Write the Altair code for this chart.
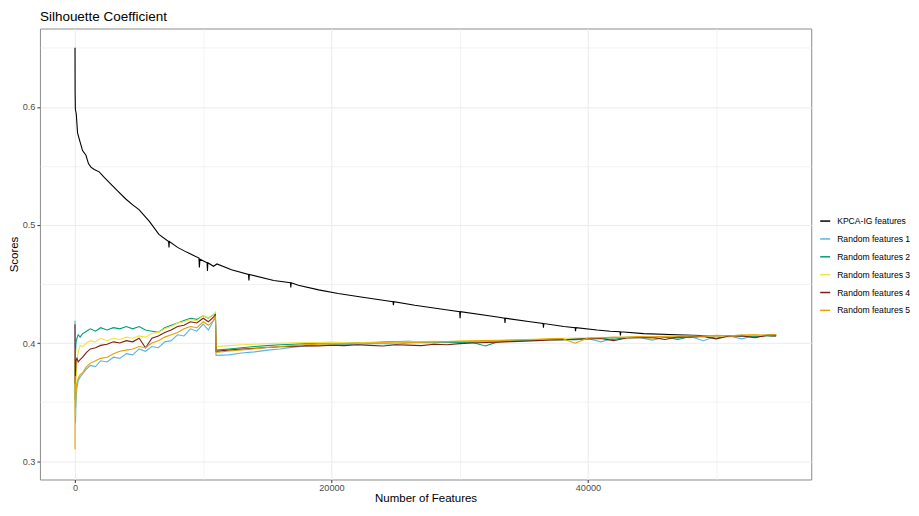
import altair as alt
import pandas as pd

SERIES = ["KPCA-IG features", "Random features 1", "Random features 2",
          "Random features 3", "Random features 4", "Random features 5"]
COLORS = ["#000000", "#56B4E9", "#009E73", "#F0E442", "#7A2012", "#E69F00"]

X_GRID = [0, 10000, 20000, 30000, 40000, 50000]
Y_GRID = [0.30, 0.35, 0.40, 0.45, 0.50, 0.55, 0.60, 0.65]

KPCA_X = [1, 10, 30, 100, 200, 350, 590, 854, 1050, 1242,
          1500, 1887, 2300, 2663, 3300, 3960, 4500, 4992, 5800, 6545,
          7300, 7330, 7360, 8000, 8700, 9666, 9700, 9740, 10300, 10330,
          10360, 10800, 11071, 12200, 13532, 13560, 13600, 15500, 16800, 16830,
          16860, 17414, 19000, 20520, 22300, 24146, 24800, 24830, 24860, 26500,
          29060, 30000, 30030, 30060, 32942, 33500, 33530, 33560, 35500, 36500,
          36530, 36560, 38122, 39000, 39030, 39060, 40706, 41740, 42500, 42530,
          42560, 44333, 46918, 50024, 54675]
KPCA_Y = [0.650, 0.612, 0.598, 0.594, 0.578, 0.572, 0.563, 0.559, 0.552, 0.549,
          0.547, 0.545, 0.540, 0.536, 0.529, 0.522, 0.517, 0.513, 0.503, 0.492,
          0.486, 0.481, 0.486, 0.481, 0.477, 0.472, 0.464, 0.471, 0.468, 0.461,
          0.468, 0.465, 0.467, 0.462, 0.458, 0.453, 0.458, 0.453, 0.451, 0.447,
          0.451, 0.449, 0.445, 0.442, 0.439, 0.436, 0.435, 0.432, 0.435, 0.432,
          0.428, 0.4265, 0.421, 0.4265, 0.422, 0.421, 0.417, 0.421, 0.418, 0.4165,
          0.413, 0.4165, 0.414, 0.413, 0.410, 0.413, 0.411, 0.410, 0.4095, 0.4065,
          0.4095, 0.408, 0.407, 0.406, 0.406]

R_X_PRE = [1, 15, 40, 80, 150, 250, 400, 600, 900, 1200,
           1600, 2000, 2500, 3000, 3500, 4000, 4500, 5000, 5500, 6000,
           6500, 7000, 7500, 8000, 8500, 9000, 9500, 10000, 10400, 10800,
           10950]
R_X_POST = [11000, 12000, 13000, 14000, 15000, 16000, 17000, 18000, 19000, 20000,
            21000, 22000, 23000, 24000, 25000, 26000, 27000, 28000, 29000, 30000,
            31000, 32000, 33000, 34000, 35000, 36000, 37000, 38000, 39000, 40000,
            41000, 42000, 43000, 44000, 45000, 46000, 47000, 48000, 49000, 50000,
            51000, 52000, 53000, 54000, 54675]

R1_PRE = [.419, .360, .332, .352, .362, .368, .371, .374, .378, .381,
          .380, .385, .384, .388, .387, .391, .390, .395, .393, .397,
          .396, .401, .402, .407, .406, .412, .410, .416, .411, .419,
          .422]
R1_POST = [.3895, .3900, .3915, .3925, .3940, .3950, .3965, .3975, .3980, .3985,
           .3990, .3985, .3995, .3995, .3990, .4000, .4005, .4000, .4010, .4005,
           .4012, .4010, .4015, .4015, .4020, .4025, .4028, .4030, .4025, .4038,
           .4010, .4040, .4045, .4048, .4025, .4050, .4040, .4055, .4020, .4058,
           .4060, .4035, .4065, .4055, .4068]

R2_PRE = [.352, .375, .392, .401, .404, .407, .405, .408, .410, .412,
          .410, .413, .411, .413, .412, .414, .412, .414, .411, .410,
          .409, .413, .415, .417, .419, .421, .420, .423, .421, .424,
          .425]
R2_POST = [.3940, .3950, .3960, .3970, .3978, .3985, .3990, .3995, .3998, .4000,
           .4002, .4005, .4003, .4008, .4012, .4015, .4010, .4012, .4008, .4010,
           .4005, .3975, .4012, .4018, .4022, .4026, .4030, .4028, .4035, .4040,
           .4043, .4030, .4048, .4050, .4045, .4052, .4030, .4055, .4058, .4040,
           .4062, .4065, .4050, .4068, .4070]

R3_PRE = [.395, .338, .352, .370, .385, .392, .398, .397, .400, .402,
          .401, .404, .402, .404, .403, .405, .404, .406, .405, .408,
          .409, .412, .414, .417, .418, .420, .419, .423, .421, .424,
          .426]
R3_POST = [.3970, .3978, .3985, .3990, .3995, .3998, .4002, .4005, .4003, .4008,
           .4005, .4002, .4006, .4003, .4008, .4010, .4012, .4015, .4013, .4018,
           .4020, .4022, .4025, .4028, .4030, .4033, .4036, .4040, .4042, .4045,
           .4048, .4045, .4050, .4052, .4040, .4055, .4058, .4045, .4060, .4062,
           .4050, .4066, .4068, .4060, .4072]

R4_PRE = [.416, .365, .372, .385, .387, .384, .386, .388, .392, .395,
          .396, .398, .399, .401, .400, .402, .401, .404, .396, .404,
          .406, .409, .411, .414, .415, .418, .417, .421, .418, .422,
          .424]
R4_POST = [.3930, .3940, .3948, .3955, .3962, .3968, .3972, .3978, .3975, .3982,
           .3978, .3985, .3980, .3975, .3985, .3982, .3978, .3990, .3985, .3995,
           .4000, .4005, .4008, .4012, .4015, .4020, .4025, .4028, .4032, .4035,
           .4038, .4020, .4042, .4045, .4048, .4030, .4052, .4050, .4055, .4035,
           .4060, .4062, .4045, .4066, .4068]

R5_PRE = [.310, .372, .345, .360, .366, .370, .373, .375, .380, .383,
          .385, .387, .388, .391, .393, .394, .395, .397, .396, .400,
          .402, .405, .407, .409, .412, .414, .413, .418, .415, .419,
          .423]
R5_POST = [.3920, .3932, .3942, .3952, .3962, .3970, .3978, .3985, .3990, .3992,
           .3995, .3998, .4000, .4002, .4000, .4004, .4008, .4010, .4012, .4015,
           .4017, .4020, .4018, .4025, .4028, .4030, .4035, .4038, .3998, .4042,
           .4045, .4050, .4048, .4055, .4052, .4058, .4060, .4062, .4058, .4065,
           .4062, .4068, .4070, .4068, .4072]

assert len(KPCA_X) == len(KPCA_Y)
rows = []
for xv, yv in zip(KPCA_X, KPCA_Y):
    rows.append({"Features": xv, "Score": yv, "Series": SERIES[0]})
R_X = R_X_PRE + R_X_POST
for name, pre, post in [(SERIES[1], R1_PRE, R1_POST), (SERIES[2], R2_PRE, R2_POST),
                        (SERIES[3], R3_PRE, R3_POST), (SERIES[4], R4_PRE, R4_POST),
                        (SERIES[5], R5_PRE, R5_POST)]:
    ys = pre + post
    assert len(ys) == len(R_X), name
    for xv, yv in zip(R_X, ys):
        rows.append({"Features": xv, "Score": yv, "Series": name})
df = pd.DataFrame(rows)

FONT = "Liberation Sans"

x_major = "datum.value % 20000 == 0"
y_major = "round(datum.value * 100) % 10 == 0"

x_axis = alt.Axis(
    values=X_GRID, format="d",
    labelExpr="datum.value % 20000 == 0 ? datum.label : ''",
    tickOpacity={"condition": {"test": x_major, "value": 1}, "value": 0},
    gridWidth={"condition": {"test": x_major, "value": 1}, "value": 0.6},
    gridColor="#ebebeb", domain=False, tickColor="#333333", tickSize=3,
    labelColor="#4d4d4d", labelFontSize=9.2, labelFont=FONT, labelPadding=1,
    titleFont=FONT, titleFontSize=11.5, titleFontWeight="normal",
    titleColor="#000000", titlePadding=0,
)
y_axis = alt.Axis(
    values=Y_GRID, format=".1f",
    labelExpr="round(datum.value * 100) % 10 == 0 ? datum.label : ''",
    tickOpacity={"condition": {"test": y_major, "value": 1}, "value": 0},
    gridWidth={"condition": {"test": y_major, "value": 1}, "value": 0.6},
    gridColor="#ebebeb", domain=False, tickColor="#333333", tickSize=3,
    labelColor="#4d4d4d", labelFontSize=9.2, labelFont=FONT, labelPadding=2,
    titleFont=FONT, titleFontSize=11.5, titleFontWeight="normal",
    titleColor="#000000", titlePadding=3,
)

chart = alt.Chart(df).mark_line(strokeWidth=1.1).encode(
    x=alt.X("Features:Q", title="Number of Features",
            scale=alt.Scale(domain=[-2734, 57409], nice=False, zero=False),
            axis=x_axis),
    y=alt.Y("Score:Q", title="Scores",
            scale=alt.Scale(domain=[0.2844, 0.6664], nice=False, zero=False),
            axis=y_axis),
    color=alt.Color("Series:N", title=None,
                    scale=alt.Scale(domain=SERIES, range=COLORS),
                    legend=alt.Legend(orient="none", legendX=781, legendY=187,
                                      symbolType="stroke", symbolSize=100,
                                      symbolStrokeWidth=1.5, labelFontSize=8.6,
                                      labelFont=FONT, labelColor="#000000",
                                      labelOffset=6, rowPadding=6.9, padding=0)),
).properties(
    width=773, height=452,
    padding={"left": 0, "top": 1, "right": 0, "bottom": 0},
    title=alt.TitleParams("Silhouette Coefficient", anchor="start", frame="group",
                          fontSize=13.5, font=FONT, fontWeight="normal",
                          color="#000000", offset=5),
).configure_view(stroke="#8c8c8c", strokeWidth=1)

chart.save("out.html", embed_options={"renderer": "svg", "actions": False})
